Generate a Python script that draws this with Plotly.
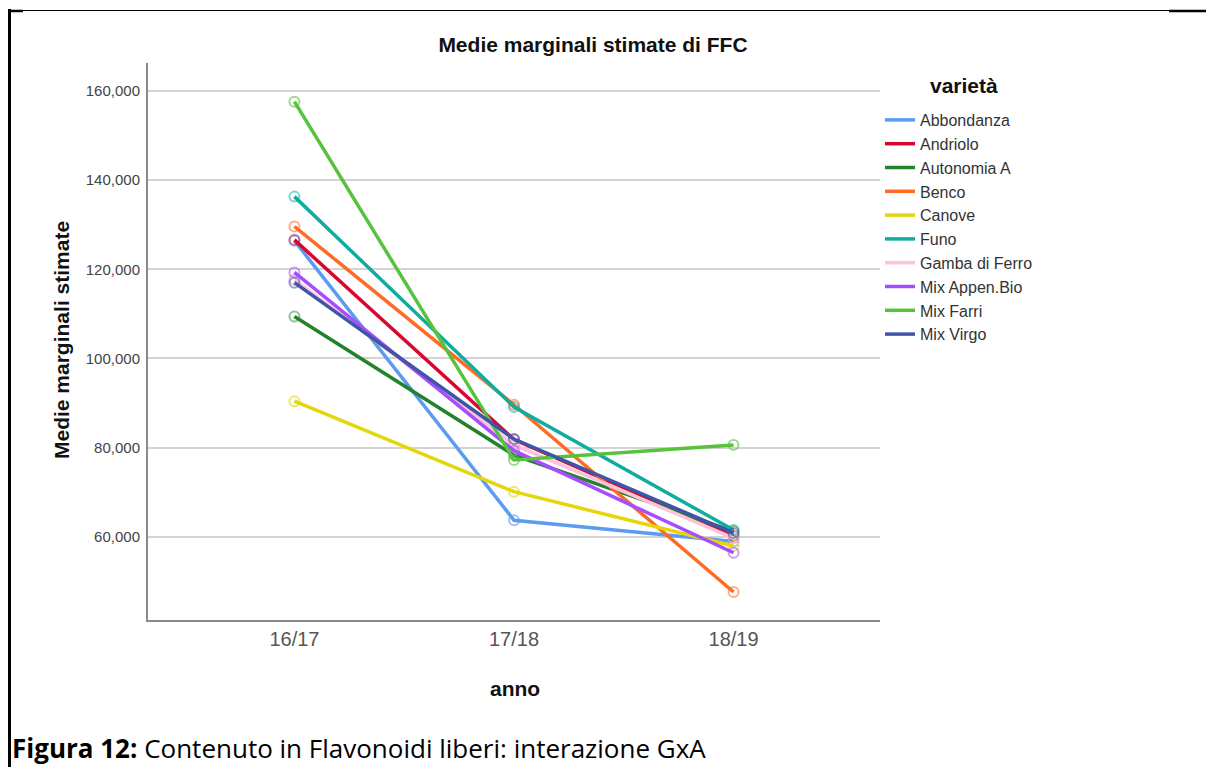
import plotly.graph_objects as go

years = ["16/17", "17/18", "18/19"]
varieties = ["Abbondanza", "Andriolo", "Autonomia A", "Benco", "Canove", "Funo",
             "Gamba di Ferro", "Mix Appen.Bio", "Mix Farri", "Mix Virgo"]
abbondanza = [126400, 63700, 58900]
andriolo = [126600, 81800, 60200]
autonomia_a = [109400, 78300, 61200]
benco = [129600, 89600, 47600]
canove = [90400, 70100, 57900]
funo = [136300, 89100, 61500]
gamba_di_ferro = [117600, 80600, 59700]
mix_appen_bio = [119300, 79300, 56400]
mix_farri = [157600, 77200, 80600]
mix_virgo = [117000, 81900, 60800]
series = [abbondanza, andriolo, autonomia_a, benco, canove, funo,
          gamba_di_ferro, mix_appen_bio, mix_farri, mix_virgo]
colors = ["#5b9cf0", "#d9062f", "#23822a", "#ff6a24", "#e3d70b", "#0fada0",
          "#ffc2db", "#a64dff", "#57c23b", "#3f55a8"]
marker_colors = ["rgba(91,156,240,0.6)", "rgba(217,6,47,0.5)", "rgba(35,130,42,0.5)",
                 "rgba(255,106,36,0.55)", "rgba(227,215,11,0.6)", "rgba(15,173,160,0.55)",
                 "rgba(240,160,200,0.7)", "rgba(166,77,255,0.55)", "rgba(87,194,59,0.6)",
                 "rgba(63,85,168,0.55)"]
y_ticks = [60000, 80000, 100000, 120000, 140000, 160000]

W, H = 1206, 767
L, R, T, B = 148, 880, 63, 620


def px(x):
    return (x - L) / (R - L)


def py(y):
    return (B - y) / (B - T)


fig = go.Figure()
for name, vals, c, mc in zip(varieties, series, colors, marker_colors):
    fig.add_trace(go.Scatter(
        x=years, y=vals, name=name, mode="lines", legendgroup=name,
        line=dict(color=c, width=3.5),
    ))
    fig.add_trace(go.Scatter(
        x=years, y=vals, name=name, mode="markers", legendgroup=name,
        showlegend=False, hoverinfo="skip",
        marker=dict(symbol="circle-open", size=10, color=mc, line=dict(width=2)),
    ))

font_main = "Liberation Sans, Arial, sans-serif"

fig.update_layout(
    width=W, height=H,
    margin=dict(l=L, r=W - R, t=T, b=H - B),
    paper_bgcolor="white", plot_bgcolor="white",
    font=dict(family=font_main, color="#222"),
    title=dict(text="Medie marginali stimate di FFC", x=593 / W, xref="container",
               y=1 - 45 / H, yref="container", xanchor="center", yanchor="middle",
               font=dict(size=21, color="#111", family=font_main, weight="bold")),
    showlegend=True,
    legend=dict(x=1.0, xanchor="left", y=py(103), yanchor="top",
                font=dict(size=16, color="#333"),
                itemwidth=30, tracegroupgap=0, bgcolor="rgba(0,0,0,0)"),
    xaxis=dict(type="category", range=[-0.667, 2.667], showgrid=False,
               showline=True, linecolor="#8a8a8a", linewidth=2,
               ticks="", tickfont=dict(size=20, color="#555"), zeroline=False),
    yaxis=dict(range=[41310, 166280], tickvals=y_ticks, tickformat=",",
               showgrid=True, gridcolor="#d4d4d4", gridwidth=2,
               showline=True, linecolor="#8a8a8a", linewidth=2,
               ticks="", ticklabelstandoff=3,
               tickfont=dict(size=15, color="#444"), zeroline=False),
)

annotations = [
    dict(text="<b>Medie marginali stimate</b>", x=px(61), y=py(340), xref="paper",
         yref="paper", xanchor="center", yanchor="middle", textangle=-90,
         showarrow=False, font=dict(size=21, color="#111", family=font_main)),
    dict(text="<b>anno</b>", x=px(515), y=py(688), xref="paper", yref="paper",
         xanchor="center", yanchor="middle",
         showarrow=False, font=dict(size=21, color="#111", family=font_main)),
    dict(text="<b>varietà</b>", x=px(964), y=py(86), xref="paper", yref="paper",
         xanchor="center", yanchor="middle",
         showarrow=False, font=dict(size=21, color="#111", family=font_main)),
    dict(text="<b>Figura 12:</b> Contenuto in Flavonoidi liberi: interazione GxA",
         x=px(10), y=py(748), xref="paper", yref="paper", xanchor="left",
         yanchor="middle", showarrow=False,
         font=dict(size=26, color="#000", family="Open Sans, Lato, sans-serif")),
]
fig.update_layout(annotations=annotations)

shapes = [
    dict(type="line", xref="paper", yref="paper", x0=px(9.5), x1=px(9.5),
         y0=py(9), y1=py(770), line=dict(color="black", width=3)),
    dict(type="line", xref="paper", yref="paper", x0=px(8), x1=px(1206),
         y0=py(10.5), y1=py(10.5), line=dict(color="black", width=1.2)),
    dict(type="line", xref="paper", yref="paper", x0=px(8), x1=px(23),
         y0=py(11), y1=py(11), line=dict(color="black", width=2.5)),
    dict(type="line", xref="paper", yref="paper", x0=px(1169), x1=px(1206),
         y0=py(11), y1=py(11), line=dict(color="black", width=2.5)),
]
fig.update_layout(shapes=shapes)

fig.write_html("out.html", config={"displayModeBar": False},
               post_script="document.body.style.margin='0px';document.body.style.overflow='hidden';")
